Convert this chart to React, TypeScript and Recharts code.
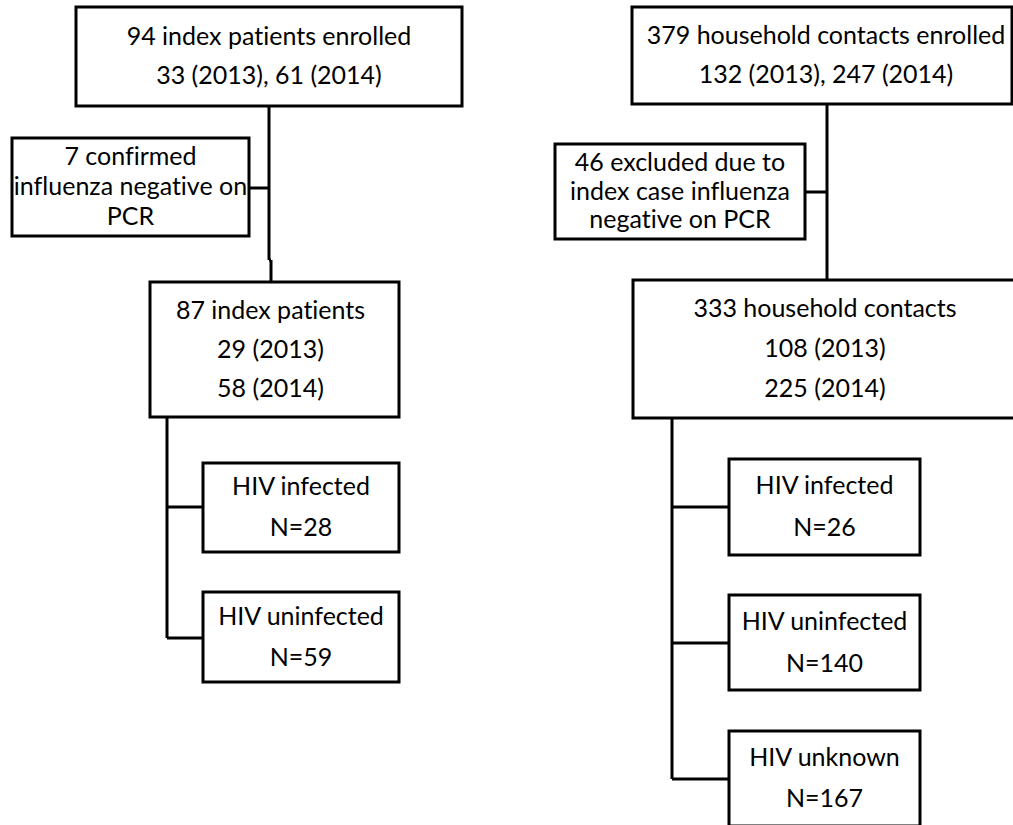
import React from "react";
import { ComposedChart, XAxis, YAxis, ReferenceArea, ReferenceLine } from "recharts";

const W = 1013;
const H = 825;
const FONT = "Lato, 'Noto Sans', sans-serif";

// text of each box in the flow
const indexLabels = [
  ["94 index patients enrolled", "33 (2013), 61 (2014)"],
  ["7 confirmed", "influenza negative on", "PCR"],
  ["87 index patients", "29 (2013)", "58 (2014)"],
  ["HIV infected", "N=28"],
  ["HIV uninfected", "N=59"],
];
const contactLabels = [
  ["379 household contacts enrolled", "132 (2013), 247 (2014)"],
  ["46 excluded due to", "index case influenza", "negative on PCR"],
  ["333 household contacts", "108 (2013)", "225 (2014)"],
  ["HIV infected", "N=26"],
  ["HIV uninfected", "N=140"],
  ["HIV unknown", "N=167"],
];

// box extents in chart units [x1, x2, y1, y2], line gap, text shift
const indexBoxes = [
  [76, 462, 7, 106, 39, 0],
  [12, 249, 138, 236, 30, 0],
  [150, 399, 282, 417, 39, -4],
  [203, 399, 463, 552, 41, 0],
  [203, 399, 592, 682, 41, 0],
];
const contactBoxes = [
  [632, 1012, 7, 104, 39, 4],
  [555, 805, 144, 239, 28.5, 0],
  [633, 1017, 280, 418, 40, 0],
  [729, 920, 459, 555, 42, 0],
  [729, 920, 595, 690, 42, 0],
  [729, 920, 731, 826, 41, 0],
];

// connector segments [x1, y1, x2, y2]
const indexLinks = [
  [269, 106, 269, 260],
  [269, 260, 271, 260],
  [271, 260, 271, 282],
  [249, 188, 269, 188],
  [167, 417, 167, 638],
  [167, 507, 203, 507],
  [167, 638, 203, 638],
];
const contactLinks = [
  [827, 104, 827, 280],
  [805, 192, 827, 192],
  [672, 418, 672, 779],
  [672, 507, 729, 507],
  [672, 643, 729, 643],
  [672, 779, 729, 779],
];

function BoxText(props: any) {
  const { viewBox, lines, gap, dx } = props;
  if (!viewBox) return null;
  const cx = viewBox.x + viewBox.width / 2 + dx;
  const cy = viewBox.y + viewBox.height / 2 - 2;
  return (
    <g>
      {lines.map((t: string, i: number) => (
        <text
          key={i}
          x={cx}
          y={cy + (i - (lines.length - 1) / 2) * gap}
          textAnchor="middle"
          dominantBaseline="central"
          fontFamily={FONT}
          fontSize={25}
          fill="#000"
          style={{ fontVariantLigatures: "none", fontFeatureSettings: '"liga" 0, "dlig" 0' }}
        >
          {t}
        </text>
      ))}
    </g>
  );
}

export default function App() {
  const boxes = [
    ...indexBoxes.map((b, i) => ({ b, lines: indexLabels[i] })),
    ...contactBoxes.map((b, i) => ({ b, lines: contactLabels[i] })),
  ];
  const links = [...indexLinks, ...contactLinks];

  return (
    <div style={{ position: "absolute", left: 0, top: 0, width: W, height: H, background: "#fff" }}>
      <ComposedChart width={W} height={H} data={[]} margin={{ top: 0, right: 0, bottom: 0, left: 0 }}>
        <XAxis type="number" dataKey="x" domain={[0, W]} hide allowDataOverflow />
        <YAxis type="number" dataKey="y" domain={[0, H]} reversed hide allowDataOverflow />
        {links.map((s, i) => (
          <ReferenceLine
            key={"l" + i}
            segment={[{ x: s[0], y: s[1] }, { x: s[2], y: s[3] }]}
            stroke="#000"
            strokeWidth={3}
            ifOverflow="visible"
          />
        ))}
        {boxes.map(({ b, lines }, i) => (
          <ReferenceArea
            key={"b" + i}
            x1={b[0]}
            x2={b[1]}
            y1={b[2]}
            y2={b[3]}
            fill="#fff"
            fillOpacity={1}
            stroke="#000"
            strokeWidth={3}
            ifOverflow="visible"
            label={<BoxText lines={lines} gap={b[4]} dx={b[5]} />}
          />
        ))}
      </ComposedChart>
    </div>
  );
}
